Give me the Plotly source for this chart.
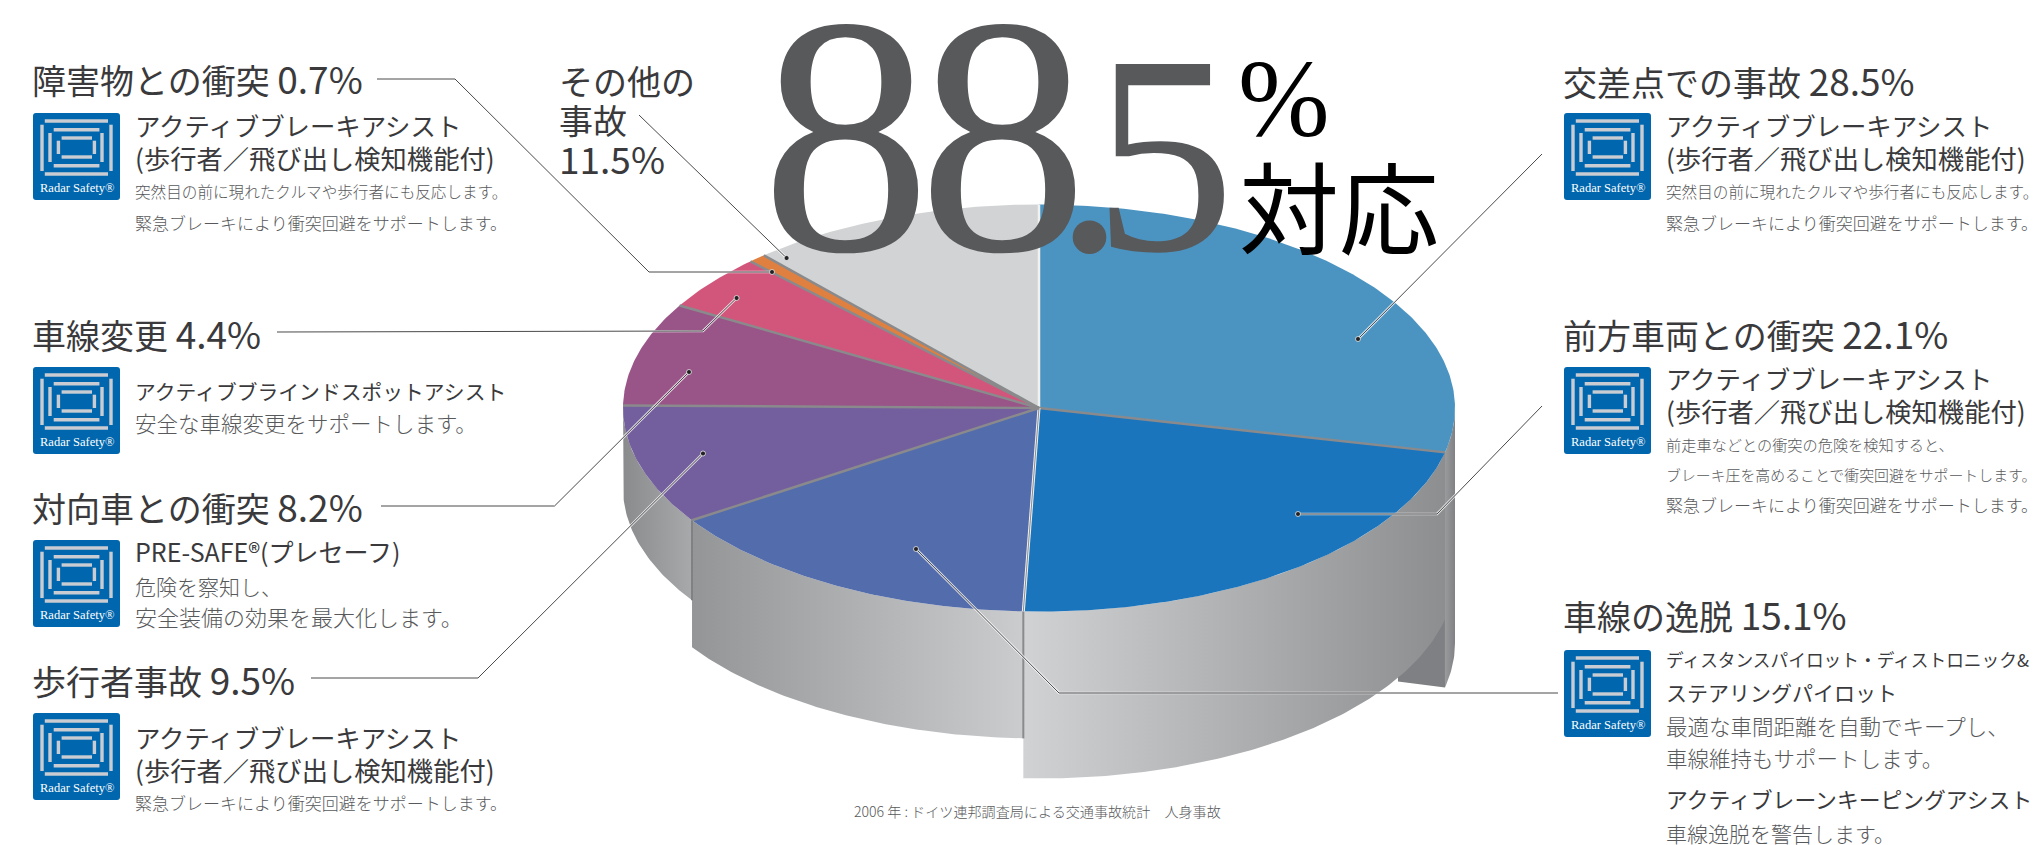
import math
import plotly.graph_objects as go

# ---------- chart data ----------
categories = ["交差点での事故", "前方車両との衝突", "車線の逸脱", "歩行者事故", "対向車との衝突",
              "車線変更", "障害物との衝突", "その他の事故"]
values = [28.5, 22.1, 15.1, 9.5, 8.2, 4.4, 0.7, 11.5]
slice_colors = ["#4b94c1", "#1b75bc", "#536cab", "#745f9e", "#995488", "#d2567c", "#e08040", "#d1d3d4"]

# ---------- geometry of the oblique pie ----------
W, H = 2041, 845
CX, CY, RX, RY = 1039, 408, 416, 203.5
SANS = "Noto Sans CJK JP"
SERIF = "Liberation Serif"
DARK, MID = "#3a3a3c", "#58595b"

cum = [0]
for v in values:
    cum.append(cum[-1] + v)
ang = [c * 3.6 for c in cum]


def pt(a, dy=0):
    r = math.radians(a)
    return CX + RX * math.sin(r), CY - RY * math.cos(r) + dy


def arc(a0, a1, dy=0):
    n = max(3, int(abs(a1 - a0) * 1.5))
    return [pt(a0 + (a1 - a0) * i / n, dy) for i in range(n + 1)]


fig = go.Figure()


def poly(points, color=None, grad=None, name=None):
    xs = [p[0] for p in points] + [points[0][0]]
    ys = [p[1] for p in points] + [points[0][1]]
    kw = dict(x=xs, y=ys, mode="lines", line=dict(width=0), fill="toself", showlegend=False,
              hoverinfo="skip" if name is None else "text", text=name)
    if grad:
        kw["fillgradient"] = dict(type="horizontal", colorscale=[[0, grad[0]], [1, grad[1]]])
    else:
        kw["fillcolor"] = color
    fig.add_trace(go.Scatter(**kw))


def line(points, color, width):
    fig.add_trace(go.Scatter(x=[p[0] for p in points], y=[p[1] for p in points], mode="lines",
                             line=dict(color=color, width=width), showlegend=False, hoverinfo="skip"))


# ---------- side walls (stepped depths of the exploded pie) ----------
DEPTH_BACK, DEPTH_FRONT, DEPTH_MID, DEPTH_LEFT = 235, 167, 127, 80
a1 = ang[1]
poly(arc(90, a1) + arc(a1, 90, DEPTH_BACK), grad=("#9a9b9d", "#808184"))
p = pt(a1)
poly([p, (p[0], p[1] + DEPTH_BACK), (p[0] - 47, p[1] + DEPTH_BACK - 6), (p[0] - 47, p[1] + 100)], color="#7f8083")
poly(arc(ang[3], ang[4]) + arc(ang[4], ang[3], DEPTH_LEFT), grad=("#8a8b8d", "#a8a9ab"))
poly(arc(ang[2], ang[3]) + arc(ang[3], ang[2], DEPTH_MID), grad=("#949597", "#cbccce"))
poly(arc(ang[1], ang[2]) + arc(ang[2], ang[1], DEPTH_FRONT), grad=("#d1d2d4", "#8d8e90"))
q = pt(ang[3])
line([q, (q[0], q[1] + DEPTH_LEFT)], "#808184", 2)
q = pt(ang[2])
line([q, (q[0], q[1] + DEPTH_MID)], "#8a8b8d", 2)

# ---------- top faces, driven by the values ----------
for i, name in enumerate(categories):
    poly([(CX, CY)] + arc(ang[i], ang[i + 1]), color=slice_colors[i], name=f"{name} {values[i]}%")

# separators
for i, a in enumerate(ang[:-1]):
    e = pt(a)
    if i == 0:
        line([(CX, CY), e], "#f1f1f2", 2.5)
    elif i == 2:
        line([(CX, CY), e], "#f1f1f2", 3)
        line([(CX, CY), e], "#8a8b8d", 1)
    else:
        line([(CX, CY), e], "#8a8a8c", 2.4)

# ---------- leader lines ----------
leaders = [
    [(377, 79), (455, 79), (649, 272), (772, 272)],
    [(277, 332), (703, 331), (736.6, 298)],
    [(381, 506), (554.5, 506), (689, 372)],
    [(311, 678), (478, 678), (703, 453.5)],
    [(1558, 693), (1059, 693), (916, 549)],
    [(1542, 406), (1437, 514), (1298, 514)],
    [(1542, 154), (1358, 339)],
    [(639, 115), (786.6, 258)],
]
for ld in leaders:
    line(ld, "rgba(255,255,255,0.75)", 2.6)
for ld in leaders:
    line(ld, "#4a4a4c", 1)
fig.add_trace(go.Scatter(x=[l[-1][0] for l in leaders], y=[l[-1][1] for l in leaders], mode="markers",
                         marker=dict(color="#222224", size=5, line=dict(color="#ffffff", width=0.7)),
                         showlegend=False, hoverinfo="skip"))

# ---------- texts ----------
heads = [
    (34, 78, "障害物との衝突 ", "0.7%"), (34, 333, "車線変更 ", "4.4%"), (34, 506, "対向車との衝突 ", "8.2%"),
    (34, 679, "歩行者事故 ", "9.5%"), (1565, 80, "交差点での事故 ", "28.5%"), (1565, 333, "前方車両との衝突 ", "22.1%"),
    (1565, 614, "車線の逸脱 ", "15.1%"), (561, 80, "その他の", ""), (561, 119, "事故", ""), (561, 158, "", "11.5%"),
]
AB = "アクティブブレーキアシスト"
PD = "(歩行者／飛び出し検知機能付)"
subs = [
    (137, 127, AB, 25.4), (137, 159, PD, 26.3), (137, 393, "アクティブブラインドスポットアシスト", 20.8),
    (137, 553, "PRE-SAFE®(プレセーフ)", 25), (137, 739, AB, 25.4), (137, 771, PD, 26.3),
    (1668, 127, AB, 25.4), (1668, 159, PD, 26.3), (1668, 380, AB, 25.4), (1668, 412, PD, 26.3),
    (1668, 661, "ディスタンスパイロット・ディストロニック&", 17.7), (1668, 694, "ステアリングパイロット", 21),
    (1668, 800, "アクティブレーンキーピングアシスト", 21.8),
]
SUDDEN = "突然目の前に現れたクルマや歩行者にも反応します。"
EMERG = "緊急ブレーキにより衝突回避をサポートします。"
descs = [
    (137, 192, SUDDEN, 15.6), (137, 223, EMERG, 17), (137, 423, "安全な車線変更をサポートします。", 21.5),
    (137, 587, "危険を察知し、", 21), (137, 617, "安全装備の効果を最大化します。", 22), (137, 803, EMERG, 17),
    (1668, 192, SUDDEN, 15.6), (1668, 223, EMERG, 17), (1668, 445, "前走車などとの衝突の危険を検知すると、", 15.2),
    (1668, 475, "ブレーキ圧を高めることで衝突回避をサポートします。", 14.9), (1668, 505, EMERG, 17),
    (1668, 726, "最適な車間距離を自動でキープし、", 21.5), (1668, 758, "車線維持もサポートします。", 21.5),
    (1668, 834, "車線逸脱を警告します。", 21),
]
icon_boxes = [(33, 113), (33, 367), (33, 540), (33, 713), (1564, 113), (1564, 367), (1564, 650)]
BLUE_ICON, BAR = "#0066ad", "#c9cdd3"
bars = [(11.8, 8, 75, 8), (11.8, 61, 75, 61), (9, 11.7, 9, 58), (78, 11.7, 78, 58),
        (20.7, 16.7, 66.4, 16.7), (20.7, 52.7, 66.4, 52.7), (17, 20, 17, 49), (69, 20, 69, 49),
        (28.6, 25, 59, 25), (28.6, 44, 59, 44), (25.4, 27.7, 25.4, 41), (61.4, 27.7, 61.4, 41)]

annos, shapes = [], []


def txt(x, y, s, size, color, family=SANS, xanchor="left", weight=400):
    annos.append(dict(x=x, y=y, xref="x", yref="y", text=s, showarrow=False, xanchor=xanchor, yanchor="middle",
                      align="left", borderpad=0, font=dict(family=family, size=size, color=color, weight=weight)))


for x, y, s, num in heads:
    t = s + (f'<span style="font-size:37px">{num}</span>' if num else "")
    txt(x - 3, y, t, 34, DARK)
for x, y, s, size in subs:
    txt(x - 3, y - 2, s, size, DARK)
for x, y, s, size in descs:
    txt(x - 3, y - 1, s, size, MID, weight=300)
txt(1037, 811, "2006 年 : ドイツ連邦調査局による交通事故統計　人身事故", 14.1, MID, xanchor="center", weight=300)

for ix, iy in icon_boxes:
    x0, y0, x1, y1, r = ix, iy, ix + 87, iy + 87, 3
    shapes.append(dict(type="path", xref="x", yref="y", fillcolor=BLUE_ICON, line=dict(width=0),
                       path=f"M{x0+r},{y0} L{x1-r},{y0} Q{x1},{y0} {x1},{y0+r} L{x1},{y1-r} Q{x1},{y1} {x1-r},{y1} "
                            f"L{x0+r},{y1} Q{x0},{y1} {x0},{y1-r} L{x0},{y0+r} Q{x0},{y0} {x0+r},{y0} Z"))
    for bx0, by0, bx1, by1 in bars:
        shapes.append(dict(type="line", xref="x", yref="y", x0=ix + bx0, y0=iy + by0, x1=ix + bx1, y1=iy + by1,
                           line=dict(color=BAR, width=3.4)))
    txt(ix + 43.5, iy + 75, "Radar Safety®", 12.5, "#ffffff", family=SERIF, xanchor="center")

# big figure: one text, per-glyph spacing is tightened after drawing
annos.append(dict(x=760, y=135, xref="x", yref="y", showarrow=False, xanchor="left", yanchor="middle", align="left",
                  borderpad=0,
                  text='<span style="font-size:340px">8</span><span style="font-size:340px">8</span>'
                       '<span style="font-size:284px">.</span><span style="font-size:284px">5</span>',
                  font=dict(family=SERIF, size=340, color="#58595b")))
txt(1237, 99, "%", 110, "#000000", family=SERIF)
txt(1238, 203, "対応", 100, "#000000")

fig.update_layout(width=W, height=H, margin=dict(l=0, r=0, t=0, b=0), paper_bgcolor="white", plot_bgcolor="white",
                  xaxis=dict(range=[0, W], visible=False, fixedrange=True),
                  yaxis=dict(range=[H, 0], visible=False, fixedrange=True),
                  annotations=annos, shapes=shapes, hovermode="closest")

post = """
document.documentElement.style.overflow='hidden';
document.body.style.margin='0';document.body.style.padding='0';document.body.style.overflow='hidden';
document.querySelectorAll('.annotation-text').forEach(function(t){
  if(t.textContent.indexOf('88.5')===0){
    var s=t.querySelectorAll('tspan');
    var ls=['-13px','-34px','-32px','0px'];
    s.forEach(function(e,i){if(ls[i]){e.style.letterSpacing=ls[i];}});
  }
});
"""
fig.write_html("out.html", post_script=post, config={"displayModeBar": False})
